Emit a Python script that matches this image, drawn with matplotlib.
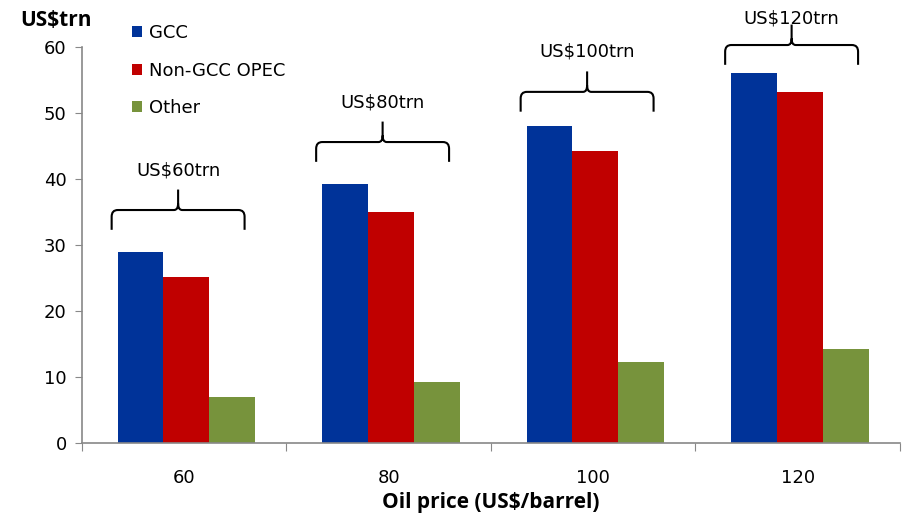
import matplotlib
matplotlib.use("Agg")
import matplotlib.pyplot as plt
from matplotlib.path import Path
from matplotlib.patches import PathPatch
import numpy as np

categories = ["60", "80", "100", "120"]
gcc = [29.0, 39.2, 48.0, 56.0]
non_gcc = [25.2, 35.0, 44.2, 53.2]
other = [7.0, 9.2, 12.2, 14.2]
brace_labels = ["US$60trn", "US$80trn", "US$100trn", "US$120trn"]
brace_ends = [32.3, 42.6, 50.2, 57.3]
series_names = ["GCC", "Non-GCC OPEC", "Other"]
colors = ["#003399", "#C00000", "#77933C"]

fig = plt.figure(figsize=(9.04, 5.14), dpi=100)
ax = fig.add_axes([82/904, 1-443/514, (900-82)/904, (443-47)/514])

x = np.arange(len(categories))
w = 0.224
for i, (vals, c, name) in enumerate(zip([gcc, non_gcc, other], colors, series_names)):
    ax.bar(x + (i-1)*w + 0.01, vals, width=w, color=c, label=name, zorder=2)

ax.set_xlim(-0.5, len(categories)-0.5)
ax.set_ylim(0, 60)
ax.set_yticks(range(0, 61, 10))
ax.tick_params(axis='y', length=5, color='#888888', labelsize=13, pad=6, direction='out')
ax.set_xticks(np.arange(-0.5, len(categories), 1.0))
ax.set_xticklabels([])
ax.tick_params(axis='x', which='major', length=6, color='#888888', direction='out')
ax.set_xticks(x, minor=True)
ax.set_xticklabels(categories, minor=True)
ax.tick_params(axis='x', which='minor', length=0, labelsize=13, pad=19)
for s in ['top', 'right']:
    ax.spines[s].set_visible(False)
for s in ['left', 'bottom']:
    ax.spines[s].set_color('#888888')
    ax.spines[s].set_linewidth(1.2)

ax.set_xlabel("Oil price (US$/barrel)", fontsize=15, fontweight='bold', family='Open Sans', labelpad=3)
fig.text(20/904, 1-20/514, "US$trn", fontsize=15, fontweight='bold', family='Open Sans', va='center', ha='left')

# Braces
def brace(ax, xc, half, y0):
    r = 0.03
    h1 = 3.0
    h2 = 3.1
    xl, xr = xc - half, xc + half
    yh = y0 + h1
    yp = yh + h2
    verts = [(xl, y0), (xl, yh - 1.0), (xl, yh), (xl + r, yh),
             (xc - 0.02, yh), (xc, yh), (xc, yh + 1.0), (xc, yp),
             (xc, yh + 1.0), (xc, yh), (xc + 0.02, yh),
             (xr - r, yh), (xr, yh), (xr, yh - 1.0), (xr, y0)]
    codes = [Path.MOVETO, Path.LINETO, Path.CURVE3, Path.CURVE3,
             Path.LINETO, Path.CURVE3, Path.CURVE3, Path.LINETO,
             Path.MOVETO, Path.CURVE3, Path.CURVE3,
             Path.LINETO, Path.CURVE3, Path.CURVE3, Path.LINETO]
    p = PathPatch(Path(verts, codes), fill=False, lw=1.5, color='black', clip_on=False, zorder=3)
    ax.add_patch(p)
    return yp

for i, (lab, y0) in enumerate(zip(brace_labels, brace_ends)):
    xc = x[i] - 0.03
    yp = brace(ax, xc, 0.325, y0)
    ty = min(yp + 1.6, 63.0)
    ax.text(xc, ty, lab, ha='center', va='bottom', fontsize=13, clip_on=False, zorder=4)

leg = ax.legend(loc='upper left', bbox_to_anchor=(125/904, 1-17/514), bbox_transform=fig.transFigure,
                frameon=False, fontsize=13, handlelength=0.55, handleheight=0.55,
                handletextpad=0.4, labelspacing=1.08, borderaxespad=0)

fig.savefig("out.png", dpi=100)
